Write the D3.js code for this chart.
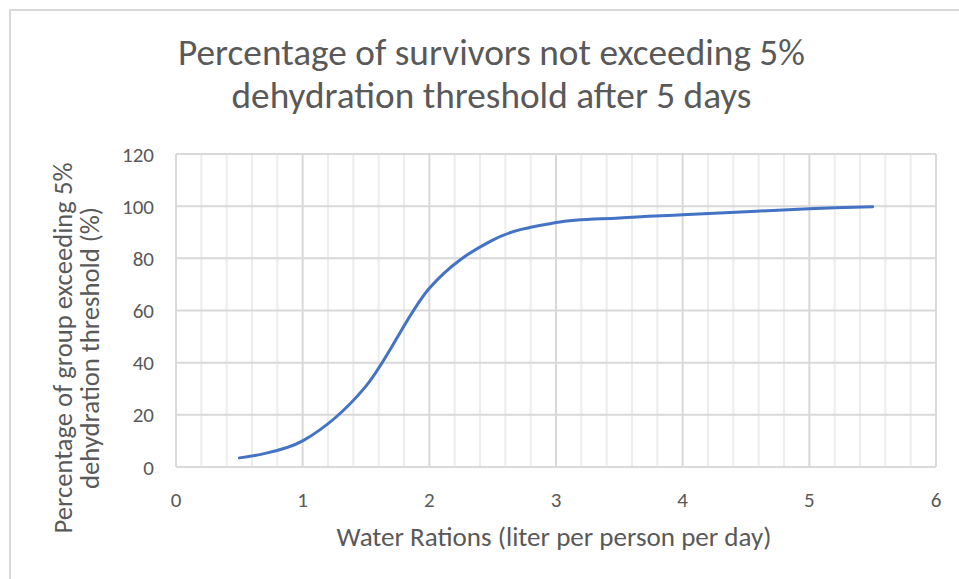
<!DOCTYPE html>
<html>
<head>
<meta charset="utf-8">
<script src="https://cdn.jsdelivr.net/npm/d3@7"></script>
<style>
  html, body { margin: 0; padding: 0; background: #fff; }
  svg text { font-family: Calibri, Carlito, Lato, "Open Sans", sans-serif; fill: #595959; }
</style>
</head>
<body>
<svg id="chart"></svg>
<script>
const W = 959;
const H = 579;
const MARGIN = { top: 154, right: 23, bottom: 112, left: 176 };

const TITLE_LINES = ["Percentage of survivors not exceeding 5%", "dehydration threshold after 5 days"];
const X_TITLE = "Water Rations (liter per person per day)";
const Y_TITLE_LINES = ["Percentage of group exceeding 5%", "dehydration threshold (%)"];

const waterRations = [0.5, 1, 1.5, 2, 2.5, 3, 3.5, 4, 4.5, 5, 5.5];
const pctGroup = [3.5, 10, 31, 68.5, 87, 93.7, 95.5, 96.7, 97.9, 99, 99.8];

const xTicks = [0, 1, 2, 3, 4, 5, 6];
const yTicks = [0, 20, 40, 60, 80, 100, 120];

const innerW = W - MARGIN.left - MARGIN.right;
const innerH = H - MARGIN.top - MARGIN.bottom;

const x = d3.scaleLinear().domain([0, 6]).range([0, innerW]);
const y = d3.scaleLinear().domain([0, 120]).range([innerH, 0]);

const svg = d3.select("#chart")
  .attr("width", W)
  .attr("height", H)
  .attr("viewBox", `0 0 ${W} ${H}`);

// outer chart border (only top/left visible in the crop)
svg.append("rect")
  .attr("x", 10).attr("y", 10)
  .attr("width", 1000).attr("height", 1000)
  .attr("fill", "none")
  .attr("stroke", "#d9d9d9")
  .attr("stroke-width", 2);

// squeeze / stretch a text element to a target width
function fitText(sel, width) {
  const node = sel.node();
  const size = parseFloat(sel.attr("font-size"));
  const len = node.getComputedTextLength();
  if (len > 0) sel.attr("font-size", (size * width / len).toFixed(2));
}

// title
const titleCfg = [{ y: 65, w: 627 }, { y: 108, w: 520 }];
TITLE_LINES.forEach((t, i) => {
  const el = svg.append("text")
    .attr("x", 491.5)
    .attr("y", titleCfg[i].y)
    .attr("text-anchor", "middle")
    .attr("font-size", 28)
    .text(t);
  fitText(el, titleCfg[i].w);
});

const g = svg.append("g")
  .attr("transform", `translate(${MARGIN.left},${MARGIN.top})`);

// minor vertical gridlines every 0.2
const minorX = d3.range(0, 6.001, 0.2).filter(v => Math.abs(v - Math.round(v)) > 1e-6);
g.selectAll(".minor-x")
  .data(minorX)
  .join("line")
  .attr("class", "minor-x")
  .attr("x1", d => x(d)).attr("x2", d => x(d))
  .attr("y1", 0).attr("y2", innerH)
  .attr("stroke", "#ededed")
  .attr("stroke-width", 2);

// major gridlines
g.selectAll(".major-y")
  .data(yTicks)
  .join("line")
  .attr("class", "major-y")
  .attr("x1", 0).attr("x2", innerW)
  .attr("y1", d => y(d)).attr("y2", d => y(d))
  .attr("stroke", "#d9d9d9")
  .attr("stroke-width", 2);

g.selectAll(".major-x")
  .data(xTicks)
  .join("line")
  .attr("class", "major-x")
  .attr("x1", d => x(d)).attr("x2", d => x(d))
  .attr("y1", 0).attr("y2", innerH)
  .attr("stroke", "#d9d9d9")
  .attr("stroke-width", 2);

// tick labels
g.selectAll(".x-tick")
  .data(xTicks)
  .join("text")
  .attr("class", "x-tick")
  .attr("x", d => x(d))
  .attr("y", innerH + 40)
  .attr("text-anchor", "middle")
  .attr("font-size", 21)
  .text(d => d);

g.selectAll(".y-tick")
  .data(yTicks)
  .join("text")
  .attr("class", "y-tick")
  .attr("x", -22)
  .attr("y", d => y(d) + 7.5)
  .attr("text-anchor", "end")
  .attr("font-size", 21)
  .text(d => d);

// the curve
const line = d3.line()
  .x((d, i) => x(waterRations[i]))
  .y(d => y(d))
  .curve(d3.curveCatmullRom.alpha(0));

g.append("path")
  .datum(pctGroup)
  .attr("d", line)
  .attr("fill", "none")
  .attr("stroke", "#4472c4")
  .attr("stroke-width", 3)
  .attr("stroke-linecap", "round");

// axis titles
const xt = svg.append("text")
  .attr("x", 554)
  .attr("y", 546)
  .attr("text-anchor", "middle")
  .attr("font-size", 21)
  .text(X_TITLE);
fitText(xt, 435);

const yCfg = [{ x: 72, w: 371 }, { x: 99, w: 282 }];
Y_TITLE_LINES.forEach((t, i) => {
  const el = svg.append("text")
    .attr("transform", `translate(${yCfg[i].x},348) rotate(-90)`)
    .attr("text-anchor", "middle")
    .attr("font-size", 21)
    .text(t);
  fitText(el, yCfg[i].w);
});
</script>
</body>
</html>
